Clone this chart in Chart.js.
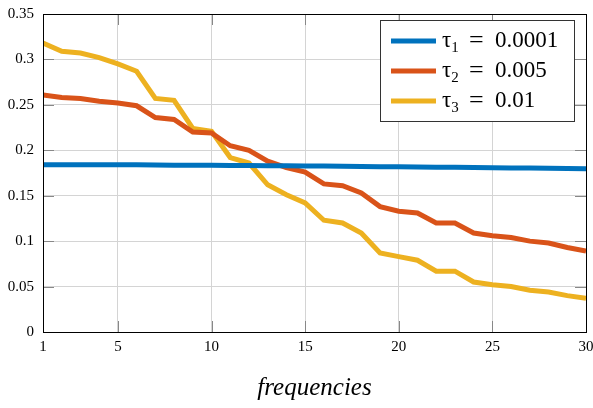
<!DOCTYPE html>
<html>
<head>
<meta charset="utf-8">
<script src="https://cdn.jsdelivr.net/npm/chart.js@4.4.0/dist/chart.umd.min.js"></script>
<style>
  html, body { margin: 0; padding: 0; background: #fff; }
  #wrap { width: 593px; height: 408px; }
</style>
</head>
<body>
<div id="wrap"><canvas id="chart" width="593" height="408"></canvas></div>
<script>
const frequencies = [1, 2, 3, 4, 5, 6, 7, 8, 9, 10, 11, 12, 13, 14, 15, 16, 17, 18, 19, 20, 21, 22, 23, 24, 25, 26, 27, 28, 29, 30];
const tau1 = [0.184, 0.184, 0.184, 0.184, 0.184, 0.184, 0.1838, 0.1836, 0.1835, 0.1834, 0.1833, 0.1832, 0.1831, 0.183, 0.1828, 0.1826, 0.1824, 0.1822, 0.182, 0.1818, 0.1816, 0.1814, 0.1812, 0.181, 0.1808, 0.1806, 0.1804, 0.1802, 0.18, 0.1798];
const tau2 = [0.261, 0.258, 0.257, 0.254, 0.252, 0.249, 0.236, 0.234, 0.22, 0.219, 0.205, 0.2, 0.188, 0.181, 0.176, 0.163, 0.161, 0.153, 0.138, 0.133, 0.131, 0.12, 0.12, 0.109, 0.106, 0.104, 0.1, 0.098, 0.093, 0.089];
const tau3 = [0.318, 0.309, 0.307, 0.302, 0.295, 0.287, 0.257, 0.255, 0.224, 0.221, 0.192, 0.186, 0.162, 0.151, 0.142, 0.123, 0.12, 0.109, 0.087, 0.083, 0.079, 0.067, 0.067, 0.055, 0.052, 0.05, 0.046, 0.044, 0.04, 0.037];
const xTicks = [1, 5, 10, 15, 20, 25, 30];
const legendSubs = ["1", "2", "3"];
const legendVals = ["0.0001", "0.005", "0.01"];
const colors = ["#0072BD", "#D95319", "#EDB120"];

const serif = "'Liberation Serif', 'DejaVu Serif', serif";

function toPoints(ys) {
  return ys.map((y, i) => ({ x: frequencies[i], y: y }));
}

// 박스 테두리, 안쪽 눈금, 범례 그리기
const framePlugin = {
  id: "frame",
  afterDraw(chart) {
    const ctx = chart.ctx;
    const a = chart.chartArea;
    const xs = chart.scales.x;
    const ys = chart.scales.y;
    ctx.save();
    ctx.strokeStyle = "#888";
    ctx.lineWidth = 1;
    ys.ticks.forEach((t) => {
      const py = Math.round(ys.getPixelForValue(t.value)) + 0.5;
      ctx.beginPath();
      ctx.moveTo(a.left, py); ctx.lineTo(a.left + 11, py);
      ctx.moveTo(a.right, py); ctx.lineTo(a.right - 11, py);
      ctx.stroke();
    });
    xs.ticks.forEach((t) => {
      const px = Math.round(xs.getPixelForValue(t.value)) + 0.5;
      ctx.beginPath();
      ctx.moveTo(px, a.bottom); ctx.lineTo(px, a.bottom - 11);
      ctx.moveTo(px, a.top); ctx.lineTo(px, a.top + 11);
      ctx.stroke();
    });
    ctx.strokeStyle = "#000";
    ctx.strokeRect(Math.round(a.left) + 0.5, Math.round(a.top) + 0.5, Math.round(a.right - a.left), Math.round(a.bottom - a.top));

    // legend
    const bx = 380, by = 20, bw = 194, bh = 101;
    ctx.fillStyle = "#fff";
    ctx.fillRect(bx, by, bw, bh);
    ctx.strokeStyle = "#333";
    ctx.strokeRect(bx + 0.5, by + 0.5, bw, bh);
    chart.data.datasets.forEach((ds, i) => {
      const ly = by + 21 + i * 30;
      ctx.strokeStyle = ds.borderColor;
      ctx.lineWidth = 5;
      ctx.beginPath();
      ctx.moveTo(391, ly); ctx.lineTo(436, ly);
      ctx.stroke();
      ctx.fillStyle = "#000";
      ctx.textBaseline = "middle";
      ctx.textAlign = "left";
      ctx.font = "23px " + serif;
      ctx.fillText("τ", 442, ly);
      const tw = ctx.measureText("τ").width;
      ctx.font = "15px " + serif;
      ctx.fillText(legendSubs[i], 442 + tw, ly + 7);
      ctx.font = "26px " + serif;
      ctx.fillText("=", 469, ly);
      ctx.font = "23px " + serif;
      ctx.fillText(legendVals[i], 495, ly);
    });
    ctx.restore();
  },
};

// 라벨 때문에 생기는 여백 없애기
function noScalePadding(s) {
  s.paddingTop = 0;
  s.paddingBottom = 0;
  s.paddingLeft = 0;
  s.paddingRight = 0;
}

new Chart(document.getElementById("chart").getContext("2d"), {
  type: "line",
  data: {
    datasets: [0, 1, 2].map((i) => ({
      label: "τ" + legendSubs[i] + " = " + legendVals[i],
      data: toPoints([tau1, tau2, tau3][i]),
      borderColor: colors[i],
      borderWidth: 5,
      pointRadius: 0,
      fill: false,
      tension: 0,
    })),
  },
  options: {
    responsive: false,
    animation: false,
    layout: { padding: { top: 14, right: 7, left: 0, bottom: 0 } },
    plugins: { legend: { display: false }, tooltip: { enabled: false } },
    scales: {
      x: {
        type: "linear",
        min: 1,
        max: 30,
        afterBuildTicks: (s) => { s.ticks = xTicks.map((v) => ({ value: v })); },
        afterFit: (s) => { s.height = 76; noScalePadding(s); },
        ticks: { color: "#000", font: { family: serif, size: 15 }, padding: 6, maxRotation: 0 },
        grid: { color: "#d4d4d4", tickLength: 0 },
        border: { color: "#000" },
        title: {
          display: true,
          text: "frequencies",
          color: "#000",
          font: { family: serif, size: 25, style: "italic" },
          padding: { top: 4, bottom: 5 },
        },
      },
      y: {
        min: 0,
        max: 0.35,
        afterFit: (s) => { s.width = 43; noScalePadding(s); },
        ticks: {
          stepSize: 0.05,
          color: "#000",
          font: { family: serif, size: 15 },
          padding: 9,
          callback: (v) => String(+v.toFixed(2)),
        },
        grid: { color: "#d4d4d4", tickLength: 0 },
        border: { color: "#000" },
      },
    },
  },
  plugins: [framePlugin],
});
</script>
</body>
</html>
